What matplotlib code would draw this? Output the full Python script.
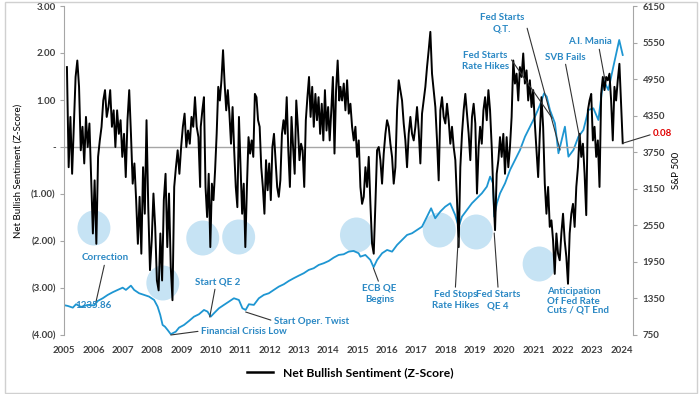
import numpy as np
import matplotlib.pyplot as plt
from matplotlib.patches import Ellipse, Rectangle
from matplotlib.lines import Line2D

# ---------- data (x = chart year) ----------
# net bullish sentiment z-score, four stretches of the chart
sent_a_span = (2005.10, 2009.64)
sent_a = [1.70, -0.43, 0.64, -0.57, 0.43, 1.49, 1.84, 1.28, -0.07, 0.43, -0.35, 0.64, 0.0, 0.50,
          -0.64, -1.84, -0.71, -2.06, -0.21, 0.14, 0.43, 0.99, 1.21, 0.64, 0.85, 1.21, 0.43, 0.78,
          0.0, 0.78, 0.28, 0.57, -0.21, 0.28, -0.64, 0.57, 1.21, 0.28, -0.78, -0.35, -1.13, -2.06,
          -1.06, -2.27, -0.43, -1.42, 0.57, -1.28, -2.62, -1.99, -0.99, -1.70, -2.84, -3.05, -1.84,
          -2.84, -1.13, -0.57, -2.13, -0.99, -2.55, -3.26, -0.85, -0.43, -0.07, -0.57, 0.0, 0.43,
          0.71, 0.0, 0.35, 0.07, 0.64, 0.43, 1.06, 0.43, 0.21, -0.85]
sent_b_span = (2009.66, 2014.38)
sent_b = [0.43, 0.78, 1.06, -0.85, -1.49, -0.57, -2.13, -0.78, -1.13, -0.50, 0.28, 1.28, 0.99,
          1.42, 2.06, 1.35, 0.78, 1.21, 0.71, 0.07, 0.85, -0.07, -0.85, -1.28, 0.64, -0.43, -1.42,
          -0.78, -2.13, -0.85, 0.21, -0.14, 0.14, -0.21, 1.13, 1.06, 0.57, 0.43, -0.43, -0.85,
          -1.42, -0.28, -0.92, -0.35, -1.13, 0.0, 0.28, -0.28, -0.85, -1.06, -0.71, 0.28, 0.57,
          0.28, 1.06, -0.07, -0.85, 0.64, 0.0, -0.57, 0.99, 0.43, -0.28, 0.07, -0.07, -0.85, 0.57,
          1.06, 1.49, 0.64, 1.28, 0.43, 1.13, 0.57, 1.06, 0.28, 0.92, 0.14, 1.21, 0.35, 0.85, 0.14,
          0.78, 1.49, -0.14, 1.21, 1.84, 0.99]
sent_c_span = (2014.42, 2019.13)
sent_c = [1.28, 0.99, 1.35, 0.78, 1.42, 0.71, 0.92, 0.43, 0.14, 0.43, -0.21, 0.14, -0.85, -1.21,
          -1.06, -0.43, -0.85, -0.21, -1.21, -2.06, -2.27, -1.21, -0.07, 0.0, -0.28, -0.78, -0.14,
          0.28, 0.57, 0.43, 0.07, -0.21, -0.78, -0.43, 0.78, 1.42, 1.21, 0.99, 0.50, 0.14, -0.43,
          0.28, 0.64, 0.28, 0.14, 0.43, 0.85, 0.35, -0.35, 0.71, 0.99, 1.28, 1.70, 2.06, 2.45, 1.56,
          1.21, 0.85, 0.14, -0.71, 0.78, 1.06, 0.64, 0.50, 0.92, 0.57, 0.07, 0.43, 0.0, -0.28,
          -1.13, -2.13, -0.43, 0.28, 0.78, 1.13, 0.71, 0.28, -0.28, 0.64, 0.92, 0.50, -0.99, 0.0]
sent_d_span = (2019.18, 2024.04)
sent_d = [0.43, 0.07, 0.78, 1.06, 0.57, 1.21, 0.78, 0.0, -0.99, -1.77, -0.57, -0.28, 0.21, -0.21,
          0.28, -0.57, 0.21, -0.43, 0.0, 0.64, 1.84, 1.35, 1.56, 0.99, 1.70, 1.49, 1.99, 1.35, 1.63,
          0.99, 1.42, 0.85, 1.21, 0.50, -0.07, -0.64, 0.28, 1.06, 0.43, -0.78, -1.42, -0.85, -1.70,
          -1.56, -1.99, -2.70, -1.84, -2.27, -2.41, -1.84, -1.42, -1.99, -2.34, -2.91, -1.84, -1.42,
          -1.21, -1.70, -0.85, -0.43, 0.28, -0.21, 0.07, -0.57, -1.45, 0.78, 0.99, 1.13, 0.14, 0.43,
          -0.21, 0.14, -0.85, 1.13, 1.49, 1.21, 1.49, 1.42, 1.56, 0.99, 0.14, 1.28, 0.99, 1.42,
          1.77, 0.92, 0.08]

# S&P 500 (right axis)
spx_years = [2005.00, 2005.13, 2005.30, 2005.41, 2005.58, 2005.81, 2006.03, 2006.15, 2006.32,
             2006.49, 2006.66, 2006.83, 2007.00, 2007.11, 2007.28, 2007.39, 2007.56, 2007.73,
             2007.90, 2008.07, 2008.19, 2008.28, 2008.36, 2008.44, 2008.53, 2008.64, 2008.81,
             2008.92, 2009.09, 2009.26, 2009.43, 2009.60, 2009.77, 2009.89, 2010.00, 2010.11,
             2010.28, 2010.45, 2010.62, 2010.79, 2010.96, 2011.08, 2011.19, 2011.30, 2011.47,
             2011.64, 2011.81, 2011.98, 2012.15, 2012.32, 2012.49, 2012.66, 2012.83, 2013.00,
             2013.17, 2013.34, 2013.51, 2013.68, 2013.85, 2014.02, 2014.19, 2014.36, 2014.53,
             2014.70, 2014.87, 2015.04, 2015.10, 2015.27, 2015.44, 2015.55, 2015.67, 2015.84,
             2016.01, 2016.18, 2016.35, 2016.52, 2016.69, 2016.86, 2017.03, 2017.20, 2017.37,
             2017.51, 2017.65, 2017.82, 2017.99, 2018.16, 2018.33, 2018.45, 2018.56, 2018.73,
             2018.90, 2019.07, 2019.24, 2019.41, 2019.52, 2019.62, 2019.66, 2019.75, 2019.86,
             2020.03, 2020.20, 2020.37, 2020.54, 2020.71, 2020.88, 2021.05, 2021.22, 2021.36,
             2021.45, 2021.56, 2021.73, 2021.85, 2021.96, 2022.07, 2022.19, 2022.36, 2022.53,
             2022.70, 2022.87, 2023.04, 2023.21, 2023.38, 2023.55, 2023.72, 2023.92, 2024.04]
spx_vals = [1240, 1227, 1199, 1255, 1211, 1244, 1236, 1309, 1353, 1408, 1452, 1490, 1527, 1490,
            1560, 1490, 1435, 1408, 1380, 1325, 1216, 1079, 915, 887, 833, 763, 805, 871, 915, 981,
            1051, 1091, 1161, 1134, 1051, 1107, 1189, 1244, 1298, 1353, 1325, 1189, 1161, 1255,
            1244, 1353, 1408, 1435, 1490, 1544, 1583, 1637, 1682, 1724, 1764, 1818, 1846, 1900,
            1928, 1965, 2020, 2064, 2075, 2118, 2130, 2092, 2036, 2064, 1982, 1862, 1982, 2092,
            2146, 2118, 2228, 2310, 2392, 2420, 2474, 2528, 2692, 2830, 2666, 2774, 2856, 2912,
            2720, 2528, 2692, 2802, 2912, 2994, 3076, 3185, 3349, 3240, 2692, 2912, 3076, 3240,
            3459, 3623, 3787, 4005, 4169, 4333, 4525, 4717, 4662, 4443, 4225, 3733, 3951, 4169,
            3677, 3787, 4005, 4115, 4443, 4471, 4279, 4936, 4772, 5154, 5592, 5346]

years = list(range(2005, 2025))
left_ticks = [3, 2, 1, 0, -1, -2, -3, -4]
left_labels = ['3.00', '2.00', '1.00', '-', '(1.00)', '(2.00)', '(3.00)', '(4.00)']
right_ticks = list(range(750, 6151, 600))

# ---------- style ----------
plt.rcParams['font.family'] = ['Lato', 'DejaVu Sans']
plt.rcParams['font.weight'] = 'bold'
BLUE = '#1E96D2'
TXT = '#2A88C4'
GREY = '#A6A6A6'
LAB = '#404040'

fig = plt.figure(figsize=(7, 3.94), dpi=100)
fig.patches.append(Rectangle((5 / 700, 1 / 394), 692 / 700, 391 / 394, transform=fig.transFigure,
                             fill=False, edgecolor='#D0D0D0', lw=1))
ax = fig.add_axes([64 / 700, 59 / 394, 569 / 700, 329 / 394])
ax2 = ax.twinx()
ax.set_zorder(ax2.get_zorder() + 1)
ax.patch.set_visible(False)

ax.set_xlim(2005.03, 2024.39)
ax.set_ylim(-4, 3)
ax2.set_ylim(750, 6150)


def px(x, y):
    # pixel position on the picture -> data coords of the left axis
    return 2005 + (x - 63) / 29.4, 3 - (y - 6) / 47


# highlight circles
for cx, cy in [(93, 228), (162, 283), (202, 238), (238, 237), (356, 235), (439, 230),
               (476, 232), (539, 264)]:
    e = Ellipse(px(cx, cy), 33 / 29.4, 35 / 47, transform=ax.transData,
                facecolor='#C6E3F4', edgecolor='none', zorder=0)
    ax2.add_patch(e)

ax.axhline(0, color=GREY, lw=1, zorder=1)

ax2.plot(spx_years, spx_vals, color=BLUE, lw=1.3, zorder=2)
sx = np.concatenate([np.linspace(s[0], s[1], len(v)) for s, v in
                     [(sent_a_span, sent_a), (sent_b_span, sent_b), (sent_c_span, sent_c),
                      (sent_d_span, sent_d)]])
sy = np.concatenate([sent_a, sent_b, sent_c, sent_d])
ax.plot(sx, sy, color='black', lw=1.4, zorder=3)

# axes cosmetics
for s in ['top', 'bottom', 'right']:
    ax.spines[s].set_visible(False)
for s in ['top', 'bottom', 'left']:
    ax2.spines[s].set_visible(False)
ax.spines['left'].set_color(GREY)
ax2.spines['right'].set_color(GREY)

ax.set_yticks(left_ticks)
ax.set_yticklabels(left_labels)
ax.set_xticks(years)
ax.set_xticklabels([str(y) for y in years])
ax.tick_params(axis='y', length=3, color=GREY, labelcolor=LAB, labelsize=7, pad=3)
ax.tick_params(axis='x', length=0, labelcolor=LAB, labelsize=7, pad=8)
ax2.set_yticks(right_ticks)
ax2.tick_params(axis='y', length=3, color=GREY, labelcolor=LAB, labelsize=7, pad=4)

ax.set_ylabel('Net Bullish Sentiment (Z-Score)', fontsize=7, color='black', labelpad=6)
ax2.set_ylabel('S&P 500', fontsize=7, color='black', labelpad=5)

# annotations
line_kw = dict(arrowstyle='-', color='#333333', lw=0.8, shrinkA=0, shrinkB=0)
txt_kw = dict(color=TXT, fontsize=7, fontweight='bold', annotation_clip=False)

ax.annotate('Correction', xy=px(95, 302), xytext=px(104, 258), ha='center', va='center',
            arrowprops=dict(relpos=(0.5, 0), **line_kw), **txt_kw)
ax.annotate('1235.86', xy=px(92, 306), ha='center', va='center', **txt_kw)
ax.annotate('Start QE 2', xy=px(209, 317), xytext=px(217, 282), ha='center', va='center',
            arrowprops=dict(relpos=(0.45, 0), **line_kw), **txt_kw)
ax.annotate('Financial Crisis Low', xy=px(170, 335), xytext=px(200, 331), ha='left', va='center',
            arrowprops=dict(relpos=(0, 0.5), **line_kw), **txt_kw)
ax.annotate('Start Oper. Twist', xy=px(245, 312), xytext=px(273, 321), ha='left', va='center',
            arrowprops=dict(relpos=(0, 0.5), **line_kw), **txt_kw)
ax.annotate('ECB QE\nBegins', xy=px(373, 268), xytext=px(379, 294), ha='center', va='center',
            linespacing=1.3, arrowprops=dict(relpos=(0.5, 1), **line_kw), **txt_kw)
ax.annotate('Fed Stops\nRate Hikes', xy=px(458, 238), xytext=px(455, 300), ha='center',
            va='center', linespacing=1.3, arrowprops=dict(relpos=(0.5, 1), **line_kw), **txt_kw)
ax.annotate('Fed Starts\nQE 4', xy=px(494, 233), xytext=px(498, 300), ha='center', va='center',
            linespacing=1.3, arrowprops=dict(relpos=(0.5, 1), **line_kw), **txt_kw)
ax.annotate('Anticipation\nOf Fed Rate\nCuts / QT End', xy=px(547, 301), ha='left', va='center',
            linespacing=1.0, **txt_kw)
ax.annotate('Fed Starts\nQ.T.', xy=px(560, 150), xytext=px(502, 23), ha='center', va='center',
            linespacing=1.3, arrowprops=dict(relpos=(1, 0.75), **line_kw), **txt_kw)
ax.annotate('Fed Starts\nRate Hikes', xy=px(552, 118), xytext=px(485, 61), ha='center',
            va='center', linespacing=1.3, arrowprops=dict(relpos=(1, 0.75), **line_kw), **txt_kw)
ax.annotate('SVB Fails', xy=px(580, 140), xytext=px(565, 57), ha='center', va='center',
            arrowprops=dict(relpos=(0.5, 0), **line_kw), **txt_kw)
ax.annotate('A.I. Mania', xy=px(605, 80), xytext=px(590, 42), ha='center', va='center',
            arrowprops=dict(relpos=(0.7, 0), **line_kw), **txt_kw)
ax.annotate('0.08', xy=(sx[-1], sy[-1]), xytext=px(653, 134), ha='left', va='center',
            color='#E00000', fontsize=7, fontweight='bold', annotation_clip=False,
            arrowprops=dict(relpos=(0, 0.5), **line_kw))

# legend at the bottom
handle = Line2D([], [], color='black', lw=1.8)
fig.legend([handle], ['Net Bullish Sentiment (Z-Score)'], loc='center',
           bbox_to_anchor=(350 / 700, 1 - 373 / 394), frameon=False, handlelength=2.2,
           prop=dict(size=8.7, weight='bold'))

fig.savefig('out.png', dpi=100)
